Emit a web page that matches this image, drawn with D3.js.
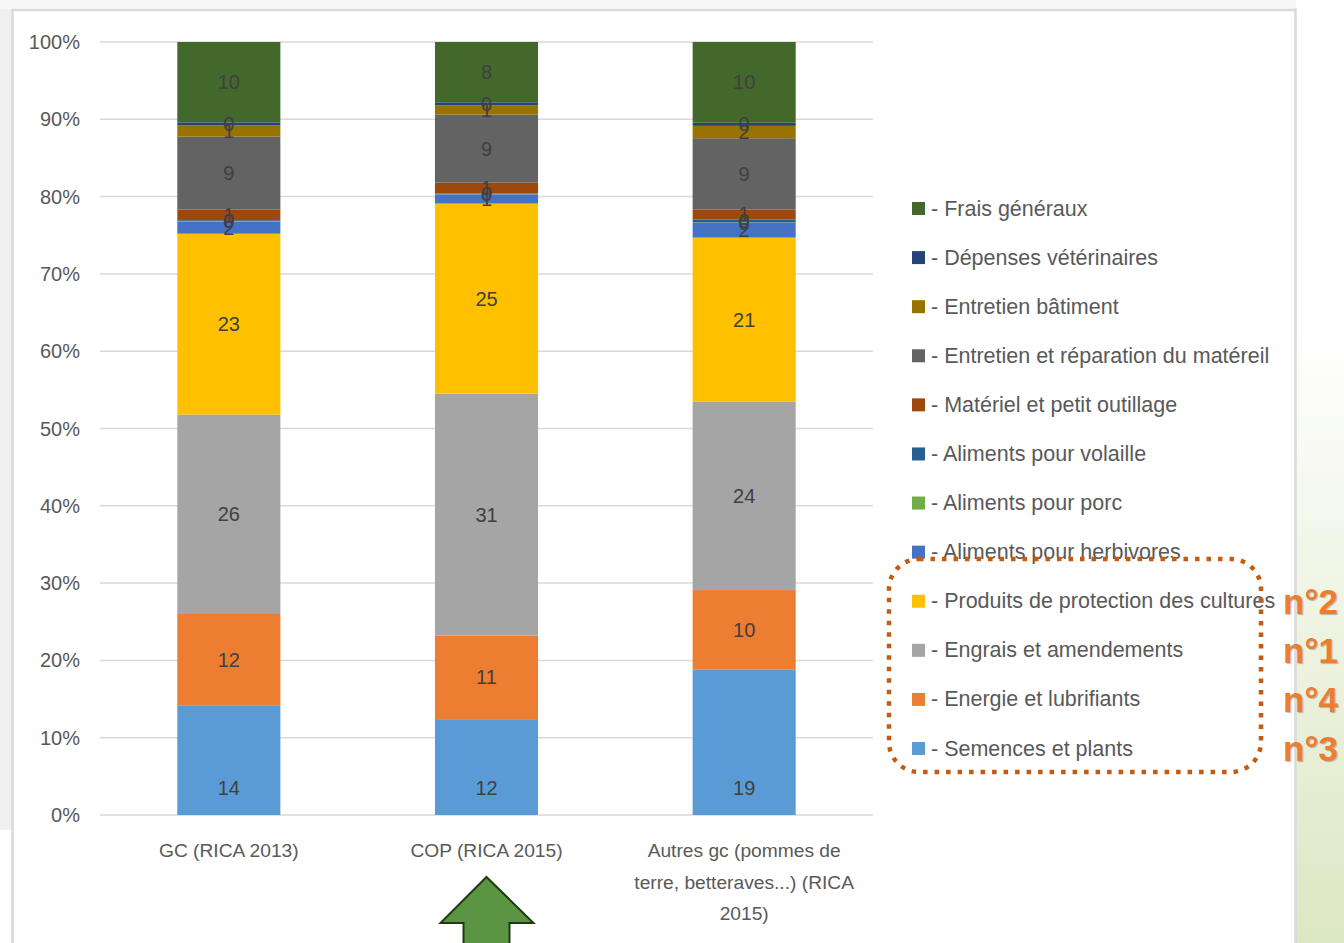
<!DOCTYPE html>
<html>
<head>
<meta charset="utf-8">
<script src="https://cdn.jsdelivr.net/npm/d3@7"></script>
<style>
  body { margin: 0; background: #fff; }
  text { font-family: "Liberation Sans", Arial, sans-serif; }
</style>
</head>
<body>
<div id="chart"></div>
<script>
const width = 1344
const height = 943

// categories, bottom to top in the stack
const categories = [
  ['GC (RICA 2013)'],
  ['COP (RICA 2015)'],
  ['Autres gc (pommes de', 'terre, betteraves...) (RICA', '2015)']
]
const series = [
  'Semences et plants',
  'Energie et lubrifiants',
  'Engrais et amendements',
  'Produits de protection des cultures',
  'Aliments pour herbivores',
  'Aliments pour porc',
  'Aliments pour volaille',
  'Matériel et petit outillage',
  'Entretien et réparation du matéreil',
  'Entretien bâtiment',
  'Dépenses vétérinaires',
  'Frais généraux'
]
const colors = ['#5B9BD5', '#ED7D31', '#A5A5A5', '#FFC000', '#4472C4', '#70AD47',
  '#255E91', '#9E480E', '#636363', '#997300', '#264478', '#43682B']

// shares (%) per category, same order as series
const gcValues = [14.2, 11.8, 25.8, 23.4, 1.6, 0.05, 0.1, 1.4, 9.4, 1.45, 0.4, 10.4]
const copValues = [12.4, 10.8, 31.3, 24.6, 1.2, 0.05, 0.05, 1.4, 8.8, 1.2, 0.4, 7.8]
const autresValues = [18.8, 10.3, 24.4, 21.2, 1.9, 0.05, 0.4, 1.3, 9.2, 1.6, 0.4, 10.45]
const yTicks = [0, 0.1, 0.2, 0.3, 0.4, 0.5, 0.6, 0.7, 0.8, 0.9, 1]
const rankLabels = ['n°2', 'n°1', 'n°4', 'n°3']

const allValues = [gcValues, copValues, autresValues]

const svg = d3.select('#chart').append('svg')
  .attr('width', width)
  .attr('height', height)

// backdrop: slide side panel + chart frame
const defs = svg.append('defs')
const grad = defs.append('linearGradient').attr('id', 'side').attr('x1', 0).attr('y1', 0).attr('x2', 0).attr('y2', 1)
grad.append('stop').attr('offset', '0%').attr('stop-color', '#ffffff')
grad.append('stop').attr('offset', '35%').attr('stop-color', '#ffffff')
grad.append('stop').attr('offset', '100%').attr('stop-color', '#dce7c3')

svg.append('rect').attr('x', 1296).attr('y', 0).attr('width', 48).attr('height', height).attr('fill', 'url(#side)')
svg.append('rect').attr('x', 0).attr('y', 0).attr('width', 12).attr('height', 830).attr('fill', '#f0f0f0')
svg.append('rect').attr('x', 0).attr('y', 0).attr('width', 1296).attr('height', 9).attr('fill', '#f7f7f7')
svg.append('rect')
  .attr('x', 12.5).attr('y', 10).attr('width', 1283).attr('height', 960)
  .attr('fill', '#fff').attr('stroke', '#d9d9d9').attr('stroke-width', 2.5)

const x = d3.scaleBand()
  .domain(d3.range(categories.length))
  .range([100, 873])
  .paddingInner(0.6)
  .paddingOuter(0.3)

const y = d3.scaleLinear().domain([0, 1]).range([815, 42])

// gridlines + y labels
svg.append('g')
  .selectAll('line')
  .data(yTicks)
  .join('line')
  .attr('x1', 100).attr('x2', 873)
  .attr('y1', d => y(d)).attr('y2', d => y(d))
  .attr('stroke', '#d9d9d9').attr('stroke-width', 1.5)

svg.append('g')
  .selectAll('text')
  .data(yTicks)
  .join('text')
  .attr('x', 80)
  .attr('y', d => y(d))
  .attr('dy', '0.35em')
  .attr('text-anchor', 'end')
  .attr('font-size', 20)
  .attr('fill', '#595959')
  .text(d3.format('.0%'))

// stacked bars
const rows = allValues.map((vals, i) => {
  const r = { i }
  series.forEach((s, k) => { r[s] = vals[k] / 100 })
  return r
})
const stacked = d3.stack().keys(series)(rows)

const barG = svg.append('g')
stacked.forEach((layer, k) => {
  barG.append('g')
    .attr('fill', colors[k])
    .selectAll('rect')
    .data(layer)
    .join('rect')
    .attr('x', d => x(d.data.i))
    .attr('width', x.bandwidth())
    .attr('y', d => y(d[1]))
    .attr('height', d => y(d[0]) - y(d[1]))
})

// data labels
const labelG = svg.append('g')
stacked.forEach((layer, k) => {
  labelG.selectAll(null)
    .data(layer)
    .join('text')
    .attr('x', d => x(d.data.i) + x.bandwidth() / 2)
    .attr('y', d => k === 0 ? y(d[0]) - 27 : (y(d[0]) + y(d[1])) / 2)
    .attr('dy', '0.35em')
    .attr('text-anchor', 'middle')
    .attr('font-size', 20)
    .attr('fill', '#404040')
    .text(d => Math.round((d[1] - d[0]) * 100))
})

// category labels
const catG = svg.append('g')
categories.forEach((lines, i) => {
  catG.append('text')
    .attr('x', x(i) + x.bandwidth() / 2)
    .attr('y', 857)
    .attr('text-anchor', 'middle')
    .attr('font-size', 19.2)
    .attr('fill', '#595959')
    .selectAll('tspan')
    .data(lines)
    .join('tspan')
    .attr('x', x(i) + x.bandwidth() / 2)
    .attr('dy', (d, j) => j === 0 ? 0 : 31.5)
    .text(d => d)
})

// legend, top entry is the last series
const legendItems = series.map((s, k) => ({ s, c: colors[k] })).reverse()
const ly = d3.scalePoint().domain(d3.range(legendItems.length)).range([208, 748])
const legend = svg.append('g')
  .selectAll('g')
  .data(legendItems)
  .join('g')
  .attr('transform', (d, i) => 'translate(912,' + ly(i) + ')')
legend.append('rect')
  .attr('x', 0).attr('y', -6).attr('width', 13).attr('height', 13)
  .attr('fill', d => d.c)
legend.append('text')
  .attr('x', 19)
  .attr('dy', '0.35em')
  .attr('font-size', 21.5)
  .attr('fill', '#595959')
  .text(d => '- ' + d.s)

// dotted highlight around the four main items
svg.append('rect')
  .attr('x', 889).attr('y', 559).attr('width', 372).attr('height', 213)
  .attr('rx', 30)
  .attr('fill', 'none')
  .attr('stroke', '#C55A11')
  .attr('stroke-width', 4.5)
  .attr('stroke-dasharray', '4.5 7')

svg.append('g')
  .selectAll('text')
  .data(rankLabels)
  .join('text')
  .attr('x', 1283)
  .attr('y', (d, i) => ly(i + 8) + 13)
  .attr('font-weight', 'bold')
  .attr('font-size', 35)
  .attr('fill', '#ED7D31')
  .attr('style', 'text-shadow: 1px 1px 1px rgba(0,0,0,0.25)')
  .text(d => d)

// arrow under COP
const ax = x(1) + x.bandwidth() / 2
svg.append('path')
  .attr('d', 'M' + ax + ',877 L' + (ax + 47) + ',923 L' + (ax + 23) + ',923 L' + (ax + 23) + ',950 L' +
    (ax - 23) + ',950 L' + (ax - 23) + ',923 L' + (ax - 46) + ',923 Z')
  .attr('fill', '#5B9443')
  .attr('stroke', '#1f3a12')
  .attr('stroke-width', 2)
</script>
</body>
</html>
